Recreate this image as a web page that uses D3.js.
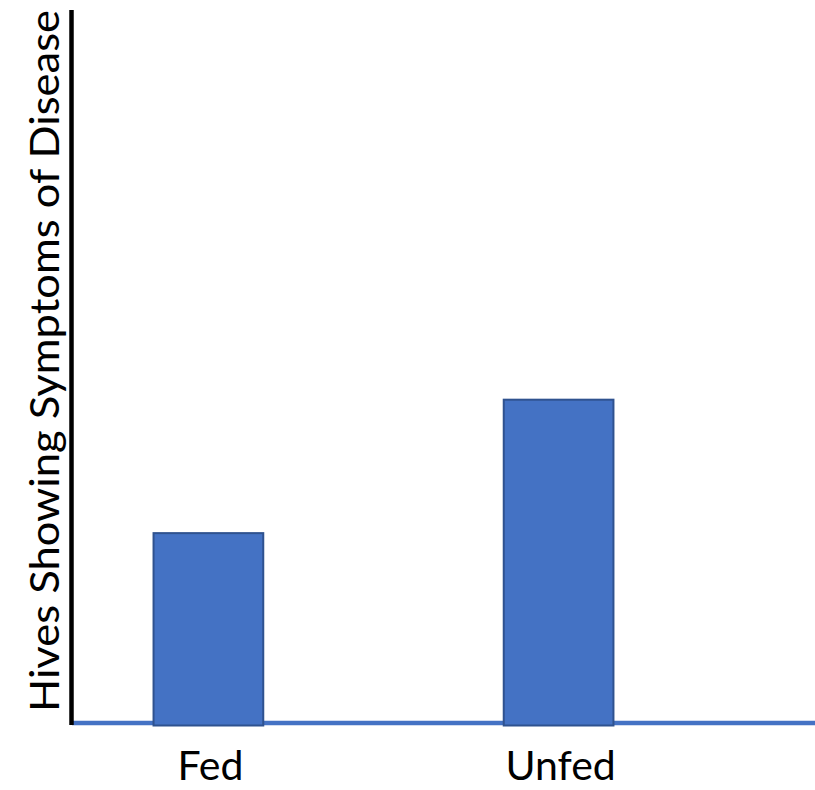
<!DOCTYPE html>
<html><head><meta charset="utf-8">
<script src="https://cdn.jsdelivr.net/npm/d3@7"></script>
<style>html,body{margin:0;padding:0;background:#fff;}</style>
</head><body>
<script>
const categories = ["Fed", "Unfed"];
const values = [10, 16.9];
const yLabel = "Hives Showing Symptoms of Disease";

const W = 815, H = 790;
const svg = d3.select("body").append("svg").attr("width", W).attr("height", H);
const font = "Lato, 'Open Sans', sans-serif";

const x = d3.scaleBand().domain(categories).range([72, 695]).paddingInner(0.681).paddingOuter(0.23);
const y = d3.scaleLinear().domain([0, 37]).range([725.5, 10]);

// x axis baseline (blue)
svg.append("line").attr("x1", 72).attr("x2", W).attr("y1", 723).attr("y2", 723)
  .attr("stroke", "#4472C4").attr("stroke-width", 4.5);
// y axis (black)
svg.append("line").attr("x1", 71.5).attr("x2", 71.5).attr("y1", y.range()[1]).attr("y2", 725)
  .attr("stroke", "#000").attr("stroke-width", 4.5);

svg.selectAll("rect.bar").data(categories).join("rect").attr("class", "bar")
  .attr("x", d => x(d) + 1)
  .attr("y", (d, i) => y(values[i]) + 1)
  .attr("width", x.bandwidth() - 2)
  .attr("height", (d, i) => y(0) - y(values[i]) - 1)
  .attr("fill", "#4472C4").attr("stroke", "#2F528F").attr("stroke-width", 2);

// category labels
svg.selectAll("text.cat").data(categories).join("text").attr("class", "cat")
  .attr("x", d => x(d) + x.bandwidth() / 2 + 2)
  .attr("y", 780)
  .attr("text-anchor", "middle")
  .attr("font-family", font).attr("font-size", 41)
  .attr("fill", "#000")
  .text(d => d);

// y label
svg.append("text")
  .attr("transform", "translate(59,361) rotate(-90)")
  .attr("text-anchor", "middle")
  .attr("font-family", font).attr("font-size", 41)
  .attr("textLength", 702).attr("lengthAdjust", "spacingAndGlyphs")
  .attr("fill", "#000")
  .text(yLabel);
</script>
</body></html>
